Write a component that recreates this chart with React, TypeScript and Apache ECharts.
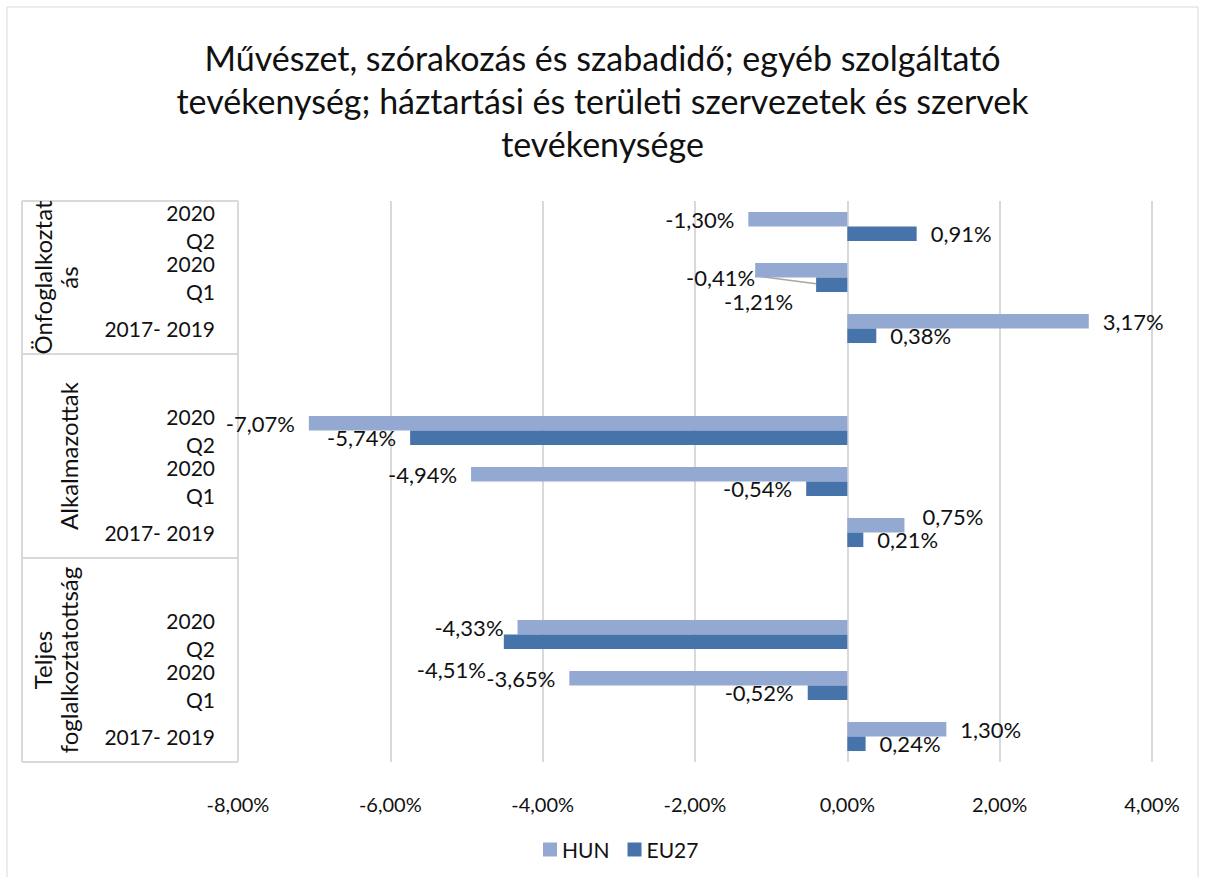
import React, { useEffect, useRef } from "react";
import * as echarts from "echarts";

// Bottom-to-top order, as in the original Excel category axis
const groups = ["Teljes\nfoglalkoztatottság", "Alkalmazottak", "Önfoglalkoztat\nás"];
const periods = ["2017- 2019", "2020\nQ1", "2020\nQ2"];
const hunTeljes = [1.3, -3.65, -4.33];
const hunAlkalmazottak = [0.75, -4.94, -7.07];
const hunOnfoglalkoztatas = [3.17, -1.21, -1.3];
const eu27Teljes = [0.24, -0.52, -4.51];
const eu27Alkalmazottak = [0.21, -0.54, -5.74];
const eu27Onfoglalkoztatas = [0.38, -0.41, 0.91];
const xTicks = [-8, -6, -4, -2, 0, 2, 4];
const seriesNames = ["HUN", "EU27"];
const title =
  "Művészet, szórakozás és szabadidő; egyéb szolgáltató\ntevékenység; háztartási és területi szervezetek és szervek\ntevékenysége";

const FONT = "Lato, 'Open Sans', sans-serif";
const HUN_COLOR = "#94a9d1";
const EU_COLOR = "#4673a9";

const fmt = (v: number) => v.toFixed(2).replace(".", ",") + "%";

export default function App() {
  const ref = useRef<HTMLDivElement>(null);
  useEffect(() => {
    if (!ref.current) return;
    const chart = echarts.init(ref.current, undefined, { renderer: "svg" });

    const hunGroups = [hunTeljes, hunAlkalmazottak, hunOnfoglalkoztatas];
    const euGroups = [eu27Teljes, eu27Alkalmazottak, eu27Onfoglalkoztatas];
    const categories: string[] = [];
    const hunData: any[] = [];
    const euData: any[] = [];
    groups.forEach((g, gi) => {
      if (gi > 0) {
        categories.push("gap" + gi);
        hunData.push(null);
        euData.push(null);
      }
      periods.forEach((p, pi) => {
        categories.push(gi + "|" + p);
        hunData.push(hunGroups[gi][pi]);
        euData.push(euGroups[gi][pi]);
      });
    });

    // manual label displacements (as in the reference)
    const hunMoves: Record<string, [number, number]> = {
      "2|2020\nQ1": [52, 31],
      "1|2017- 2019": [4, -9],
    };
    const euMoves: Record<string, [number, number]> = {
      "2|2020\nQ1": [-47, -7],
      "0|2020\nQ2": [-4, 28],
    };
    const leaderKey = "2|2020\nQ1";
    const captured: Record<string, any> = {};

    const mkLayout = (moves: Record<string, [number, number]>, tag: string) => (params: any) => {
      const cat = categories[params.dataIndex];
      const m = moves[cat];
      if (!m) return {};
      const r = params.labelRect;
      const nx = r.x + m[0];
      const ny = r.y + m[1];
      captured[tag + cat] = { label: { x: nx, y: ny, w: r.width, h: r.height }, rect: params.rect };
      return { x: nx, y: ny, align: "left", verticalAlign: "top" };
    };

    const labelStyle = {
      show: true,
      position: "outside" as any,
      distance: 14,
      fontFamily: FONT,
      fontSize: 22,
      color: "#111",
      formatter: (p: any) => fmt(p.value),
    };

    chart.setOption({
      animation: false,
      backgroundColor: "#fff",
      title: {
        text: title,
        left: "center",
        top: 36,
        padding: 0,
        textStyle: {
          fontFamily: FONT,
          fontSize: 34,
          fontWeight: "normal",
          color: "#111",
          lineHeight: 43,
        },
      },
      legend: {
        data: seriesNames,
        top: 834,
        left: 538,
        itemWidth: 14,
        itemHeight: 14,
        itemGap: 18,
        icon: "rect",
        textStyle: { fontFamily: FONT, fontSize: 21, color: "#111" },
      },
      grid: { left: 238, right: 53, top: 201, bottom: 115 },
      xAxis: {
        type: "value",
        min: xTicks[0],
        max: xTicks[xTicks.length - 1],
        interval: 2,
        axisLine: { show: false },
        axisTick: { show: false },
        splitLine: { show: true, lineStyle: { color: "#d9d9d9", width: 2 } },
        axisLabel: {
          margin: 32,
          fontFamily: FONT,
          fontSize: 20,
          color: "#111",
          formatter: (v: number) => fmt(v),
        },
      },
      yAxis: {
        type: "category",
        data: categories,
        axisLine: { show: false },
        axisTick: { show: false },
        splitLine: { show: false },
        axisLabel: {
          interval: 0,
          margin: 23,
          fontFamily: FONT,
          fontSize: 21,
          lineHeight: 28,
          color: "#111",
          align: "right",
          formatter: (v: string) => (v.startsWith("gap") ? "" : v.split("|")[1]),
        },
      },
      series: [
        {
          name: seriesNames[0],
          type: "bar",
          data: hunData,
          itemStyle: { color: HUN_COLOR },
          barGap: "0%",
          barCategoryGap: "43%",
          label: labelStyle,
          labelLayout: mkLayout(hunMoves, "hun:"),
        },
        {
          name: seriesNames[1],
          type: "bar",
          data: euData,
          itemStyle: { color: EU_COLOR },
          barGap: "0%",
          barCategoryGap: "43%",
          label: labelStyle,
          labelLayout: mkLayout(euMoves, "eu:"),
        },
      ],
    });

    // multi-level category frame and group labels, positioned via the axes
    const yc = (c: string) => chart.convertToPixel({ yAxisIndex: 0 }, c) as number;
    const band = Math.abs(yc(categories[0]) - yc(categories[1]));
    const axisX = chart.convertToPixel({ xAxisIndex: 0 }, xTicks[0]) as number;
    const frameLeft = 22;
    const groupBounds: [number, number][] = [];
    groups.forEach((g, gi) => {
      const firstCat = gi + "|" + periods[0];
      const lastCat = gi + "|" + periods[periods.length - 1];
      const bottom = yc(firstCat) + band / 2;
      const top = yc(lastCat) - band / 2 - (gi < groups.length - 1 ? band : 0);
      groupBounds.push([top, bottom]);
    });
    const lineStyle = { stroke: "#d9d9d9", lineWidth: 2 };
    const graphics: any[] = [
      {
        type: "rect",
        shape: { x: 7, y: 7, width: 1191, height: 900 },
        style: { fill: "none", stroke: "#d9d9d9", lineWidth: 1 },
        silent: true,
      },
    ];
    const topY = Math.min(...groupBounds.map((b) => b[0]));
    const botY = Math.max(...groupBounds.map((b) => b[1]));
    graphics.push({
      type: "line",
      shape: { x1: frameLeft, y1: topY, x2: frameLeft, y2: botY },
      style: lineStyle,
    });
    const ys = new Set<number>();
    groupBounds.forEach((b) => {
      ys.add(Math.round(b[0]));
      ys.add(Math.round(b[1]));
    });
    ys.forEach((y) =>
      graphics.push({
        type: "line",
        shape: { x1: frameLeft, y1: y, x2: axisX, y2: y },
        style: lineStyle,
      })
    );
    groups.forEach((g, gi) => {
      const [t, b] = groupBounds[gi];
      graphics.push({
        type: "text",
        x: 81,
        y: (t + b) / 2,
        rotation: Math.PI / 2,
        style: {
          text: g,
          fontFamily: FONT,
          fontSize: 24,
          lineHeight: 26,
          fill: "#111",
          align: "center",
          verticalAlign: "bottom",
        },
      });
    });
    // leader line for the displaced EU27 label
    const cap = captured["eu:" + leaderKey];
    if (cap && cap.rect) {
      graphics.push({
        type: "line",
        z: -1,
        shape: {
          x1: cap.label.x + cap.label.w,
          y1: cap.label.y + cap.label.h / 2 - 2,
          x2: cap.rect.x,
          y2: cap.rect.y + cap.rect.height / 2 - 1,
        },
        style: { stroke: "#a6a6a6", lineWidth: 1.5 },
      });
    }
    chart.setOption({ graphic: graphics });

    return () => chart.dispose();
  }, []);
  return (
    <div
      ref={ref}
      style={{ position: "absolute", left: 0, top: 0, width: 1205, height: 877 }}
    />
  );
}
